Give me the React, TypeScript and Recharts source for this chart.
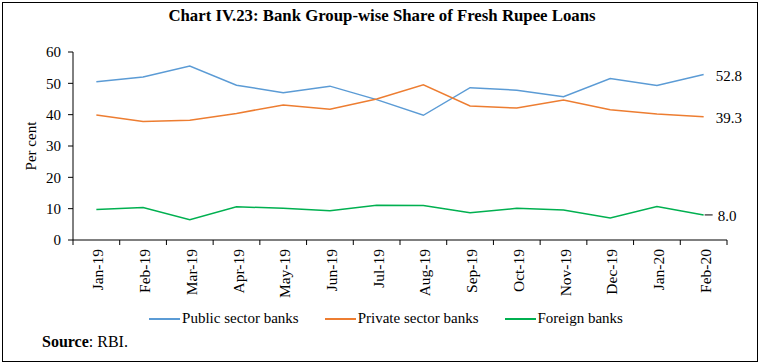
import React from 'react';
import { LineChart, Line, XAxis, YAxis } from 'recharts';

const MONTHS = [
  'Jan-19', 'Feb-19', 'Mar-19', 'Apr-19', 'May-19', 'Jun-19', 'Jul-19',
  'Aug-19', 'Sep-19', 'Oct-19', 'Nov-19', 'Dec-19', 'Jan-20', 'Feb-20',
];
const PUBLIC_SECTOR = [50.5, 52.0, 55.5, 49.4, 47.0, 49.1, 44.8, 39.8, 48.6, 47.8, 45.7, 51.5, 49.3, 52.8];
const PRIVATE_SECTOR = [39.9, 37.8, 38.2, 40.4, 43.1, 41.7, 45.0, 49.5, 42.8, 42.1, 44.7, 41.6, 40.2, 39.3];
const FOREIGN = [9.7, 10.4, 6.5, 10.6, 10.1, 9.3, 11.1, 11.0, 8.7, 10.1, 9.6, 7.0, 10.7, 8.0];
const Y_TICKS = [0, 10, 20, 30, 40, 50, 60];

const SERIES = [
  { key: 'public', name: 'Public sector banks', color: '#5B9BD5', values: PUBLIC_SECTOR },
  { key: 'private', name: 'Private sector banks', color: '#ED7D31', values: PRIVATE_SECTOR },
  { key: 'foreign', name: 'Foreign banks', color: '#00B050', values: FOREIGN },
];

const FONT = '"Liberation Serif", "Times New Roman", serif';

const data = MONTHS.map((m, i) => ({
  i,
  month: m,
  public: PUBLIC_SECTOR[i],
  private: PRIVATE_SECTOR[i],
  foreign: FOREIGN[i],
}));

// ticks at band edges (x.5) get a tick mark, integer ticks get the month label
const X_TICKS: number[] = [];
for (let k = -0.5; k <= MONTHS.length - 0.5; k += 0.5) X_TICKS.push(k);

const MonthTick = (props: any) => {
  const { x, y, payload } = props;
  const v = payload.value;
  if (!Number.isInteger(v)) {
    return <line x1={x} y1={y} x2={x} y2={y + 5} stroke="#000" strokeWidth={1} />;
  }
  return (
    <text
      x={x + 7}
      y={y + 9}
      transform={`rotate(-90, ${x + 7}, ${y + 9})`}
      textAnchor="end"
      fontFamily={FONT}
      fontSize={15.5}
      fill="#000"
    >
      {MONTHS[v]}
    </text>
  );
};

const endLabel = (value: number, withDash: boolean) => (props: any) => {
  const { x, y, index } = props;
  if (index !== MONTHS.length - 1) return null;
  return (
    <g>
      {withDash && <line x1={x + 1} y1={y} x2={x + 9} y2={y} stroke="#000" strokeWidth={1} />}
      <text
        x={x + (withDash ? 14 : 12)}
        y={y + 1}
        dy="0.35em"
        fontFamily={FONT}
        fontSize={15}
        fill="#000"
      >
        {value.toFixed(1)}
      </text>
    </g>
  );
};

export default function App() {
  return (
    <div
      style={{
        position: 'absolute',
        left: 0,
        top: 0,
        width: 760,
        height: 364,
        background: '#fff',
        fontFamily: FONT,
      }}
    >
      <div
        style={{
          position: 'absolute',
          left: 2,
          top: 2,
          width: 754,
          height: 358,
          border: '1px solid #000',
        }}
      />
      <div
        style={{
          position: 'absolute',
          top: 6,
          left: 0,
          width: 764,
          textAlign: 'center',
          fontWeight: 'bold',
          fontSize: 16.8,
        }}
      >
        Chart IV.23: Bank Group-wise Share of Fresh Rupee Loans
      </div>
      <div style={{ position: 'absolute', left: 0, top: 0 }}>
        <LineChart width={760} height={364} data={data} margin={{ top: 52, right: 33, bottom: 64, left: 33 }}>
          <XAxis
            dataKey="i"
            type="number"
            domain={[-0.5, MONTHS.length - 0.5]}
            ticks={X_TICKS}
            interval={0}
            tickLine={false}
            tickSize={0}
            tickMargin={0}
            height={60}
            axisLine={{ stroke: '#000' }}
            tick={<MonthTick />}
          />
          <YAxis
            domain={[0, 60]}
            ticks={Y_TICKS}
            width={40}
            tickSize={5}
            tickMargin={7}
            axisLine={{ stroke: '#000' }}
            tickLine={{ stroke: '#000' }}
            tick={{ fill: '#000', fontSize: 15, fontFamily: FONT }}
            label={{
              value: 'Per cent',
              angle: -90,
              position: 'insideLeft',
              offset: -2,
              style: { fill: '#000', fontSize: 15, fontFamily: FONT, textAnchor: 'middle' },
            }}
          />
          {SERIES.map((s) => (
            <Line
              key={s.key}
              dataKey={s.key}
              name={s.name}
              stroke={s.color}
              strokeWidth={1.5}
              dot={false}
              activeDot={false}
              isAnimationActive={false}
              label={endLabel(s.values[s.values.length - 1], s.key === 'foreign')}
            />
          ))}
        </LineChart>
      </div>
      <div
        style={{
          position: 'absolute',
          top: 310,
          left: 0,
          width: 760,
          display: 'flex',
          justifyContent: 'center',
          fontSize: 15,
          paddingLeft: 12,
          boxSizing: 'border-box',
        }}
      >
        {SERIES.map((s) => (
          <div key={s.key} style={{ display: 'flex', alignItems: 'center', margin: '0 13px' }}>
            <span style={{ display: 'inline-block', width: 31, height: 2, background: s.color, marginRight: 2 }} />
            <span>{s.name}</span>
          </div>
        ))}
      </div>
      <div style={{ position: 'absolute', top: 333, left: 42, fontSize: 16 }}>
        <b>Source</b>: RBI.
      </div>
    </div>
  );
}
